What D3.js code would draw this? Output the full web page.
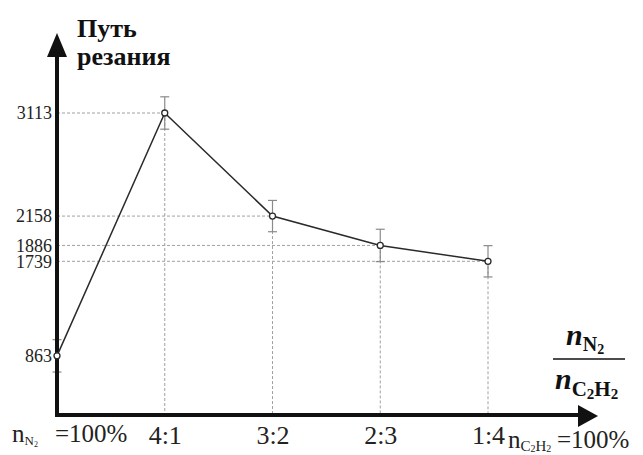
<!DOCTYPE html>
<html><head><meta charset="utf-8">
<script src="https://cdn.jsdelivr.net/npm/d3@7/dist/d3.min.js"></script>
<style>body{margin:0;background:#fff;}svg{display:block;}</style>
</head><body>
<svg id="c" width="643" height="455"></svg>
<script>
const categories = ["100% N2", "4:1", "3:2", "2:3", "1:4"];
const values = [863, 3113, 2158, 1886, 1739];
const errors = [150, 150, 145, 150, 145];
const yTickValues = [863, 1739, 1886, 2158, 3113];
const xTickLabels = ["4:1", "3:2", "2:3", "1:4"];

const svg = d3.select("#c");
const serif = "Liberation Serif";
const axisX0 = 57, axisY0 = 415;

const x = d3.scalePoint().domain(categories).range([57, 488]);
const y = d3.scaleLinear().domain([0, 3113]).range([449, 113]);

// dashed guides
const g = svg.append("g");
values.forEach((v, i) => {
  if (i === 0) return;
  g.append("line").attr("x1", axisX0).attr("x2", x(categories[i]))
    .attr("y1", y(v)).attr("y2", y(v));
  g.append("line").attr("x1", x(categories[i])).attr("x2", x(categories[i]))
    .attr("y1", y(v)).attr("y2", axisY0);
});
g.selectAll("line").attr("stroke", "#a0a0a0").attr("stroke-width", 1).attr("stroke-dasharray", "3,2");

// error bars
const eb = svg.append("g").attr("stroke", "#8a8a8a").attr("stroke-width", 1.2);
values.forEach((v, i) => {
  const cx = x(categories[i]);
  eb.append("line").attr("x1", cx).attr("x2", cx).attr("y1", y(v + errors[i])).attr("y2", y(v - errors[i]));
  eb.append("line").attr("x1", cx - 4.5).attr("x2", cx + 4.5).attr("y1", y(v + errors[i])).attr("y2", y(v + errors[i]));
  eb.append("line").attr("x1", cx - 4.5).attr("x2", cx + 4.5).attr("y1", y(v - errors[i])).attr("y2", y(v - errors[i]));
});

// axes (thick with arrows)
svg.append("line").attr("x1", axisX0).attr("x2", axisX0).attr("y1", axisY0 + 2).attr("y2", 55)
  .attr("stroke", "#111").attr("stroke-width", 4);
svg.append("path").attr("d", "M47,57 L67,57 L57,33 Z").attr("fill", "#111");
svg.append("line").attr("x1", axisX0 - 2).attr("x2", 580).attr("y1", axisY0).attr("y2", axisY0)
  .attr("stroke", "#111").attr("stroke-width", 4);
svg.append("path").attr("d", "M578,405 L578,427 L598,416 Z").attr("fill", "#111");

// data line
svg.append("path").datum(values)
  .attr("d", d3.line().x((d, i) => x(categories[i])).y(d => y(d)))
  .attr("fill", "none").attr("stroke", "#2a2a2a").attr("stroke-width", 1.5);
svg.selectAll("circle.pt").data(values).join("circle").attr("class", "pt")
  .attr("cx", (d, i) => x(categories[i])).attr("cy", d => y(d)).attr("r", 3)
  .attr("fill", "#fff").attr("stroke", "#2a2a2a").attr("stroke-width", 1.3);

// y axis ticks labels
const ya = svg.append("g").attr("transform", `translate(${axisX0 - 3},0)`)
  .call(d3.axisLeft(y).tickValues(yTickValues).tickSize(0).tickPadding(2).tickFormat(d3.format("d")));
ya.select(".domain").remove();
ya.attr("font-family", null).attr("font-size", null);
ya.selectAll("text").style("font-family", serif).style("font-size", "18px").attr("fill", "#222");

// x axis tick labels
const xa = svg.append("g").attr("transform", `translate(0,${axisY0 + 9})`)
  .call(d3.axisBottom(x).tickValues(categories.slice(1)).tickSize(0).tickPadding(2)
    .tickFormat((d, i) => xTickLabels[i]));
xa.select(".domain").remove();
xa.attr("font-family", null).attr("font-size", null);
xa.selectAll("text").style("font-family", serif).style("font-size", "26px").attr("fill", "#222");

// y title
const t = svg.append("text").style("font-family", serif).style("font-weight", "bold").style("font-size", "26px").attr("fill", "#111");
t.append("tspan").attr("x", 77).attr("y", 37).text("Путь");
t.append("tspan").attr("x", 77).attr("y", 65).text("резания");

// bottom left label
const bl = svg.append("text").style("font-family", serif).style("font-size", "25px").attr("fill", "#222").attr("x", 12).attr("y", 442);
bl.append("tspan").text("n");
bl.append("tspan").style("font-size", "13px").attr("dy", 3).text("N");
bl.append("tspan").style("font-size", "8px").attr("dy", 2).text("2");
bl.append("tspan").attr("x", 55).attr("dy", -5).text("=100%");

// bottom right label
const br = svg.append("text").style("font-family", serif).style("font-size", "25px").attr("fill", "#222").attr("x", 508).attr("y", 448);
br.append("tspan").text("n");
br.append("tspan").style("font-size", "15px").attr("dy", 3).text("C");
br.append("tspan").style("font-size", "10px").attr("dy", 1).text("2");
br.append("tspan").style("font-size", "15px").attr("dy", -1).text("H");
br.append("tspan").style("font-size", "10px").attr("dy", 1).text("2");
br.append("tspan").attr("x", 557).attr("dy", -4).text("=100%");

// fraction
const num = svg.append("text").style("font-family", serif).style("font-weight", "bold").attr("fill", "#111")
  .attr("x", 566).attr("y", 345);
num.append("tspan").style("font-style", "italic").style("font-size", "30px").text("n");
num.append("tspan").style("font-size", "20px").attr("dy", 6).text("N");
num.append("tspan").style("font-size", "14px").attr("dy", 3).text("2");
svg.append("line").attr("x1", 553).attr("x2", 625).attr("y1", 359).attr("y2", 359).attr("stroke", "#111").attr("stroke-width", 1.5);
const den = svg.append("text").style("font-family", serif).style("font-weight", "bold").attr("fill", "#111")
  .attr("x", 555).attr("y", 389);
den.append("tspan").style("font-style", "italic").style("font-size", "30px").text("n");
den.append("tspan").style("font-size", "21px").attr("dy", 7).text("C");
den.append("tspan").style("font-size", "15px").attr("dy", 3).text("2");
den.append("tspan").style("font-size", "21px").attr("dy", -3).text("H");
den.append("tspan").style("font-size", "15px").attr("dy", 3).text("2");
</script>
</body></html>
